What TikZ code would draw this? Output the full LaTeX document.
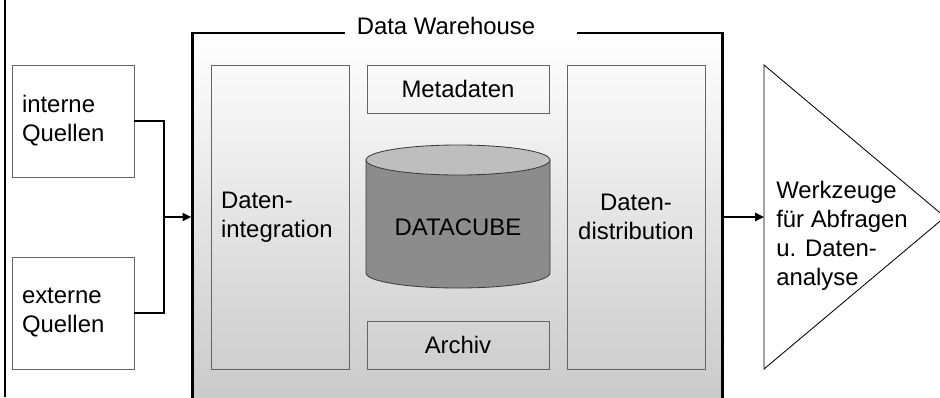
\documentclass[tikz,border=0pt]{standalone}
\usepackage{fontspec}
\setmainfont{Liberation Sans}
\usepackage{xcolor}
\usetikzlibrary{arrows.meta}
\definecolor{boxgray}{RGB}{100,100,100}
\definecolor{cubebody}{RGB}{140,140,140}
\definecolor{cubetop}{RGB}{190,190,190}
\definecolor{cubeline}{RGB}{60,60,60}

\tikzset{
    lbl/.style={font=\fontsize{17}{20.6}\selectfont},
    srcbox/.style={lbl, draw=boxgray, line width=0.7pt, fill=white, minimum width=3.05cm, minimum height=2.8cm, text width=2.55cm, inner xsep=0.25cm, align=left},
    dwhbox/.style={lbl, draw=boxgray, line width=0.7pt, minimum width=4.55cm, minimum height=1.2cm},
    sidebox/.style={dwhbox, minimum width=3.45cm, minimum height=7.6cm, text width=2.95cm, inner xsep=0.25cm},
    flow/.style={line width=2.1pt, -{Triangle[length=0.22cm,width=0.2cm]}}
}

\begin{document}
\begin{tikzpicture}
    \useasboundingbox (0,0) rectangle (23.5,-9.925);
    \draw[line width=1.4pt] (0.125,0) -- (0.125,-9.925);

    % Warehouse frame
    \node[top color=white, bottom color=black!22, minimum width=13.225cm, minimum height=9.675cm, inner sep=0] (dwh) at (11.4375,-5.6625) {};
    \draw[line width=2pt] (8.625,-0.825) -| (dwh.south west);
    \draw[line width=2pt] (14.425,-0.825) -| (dwh.south east);
    \node[lbl] (dwhtitle) at (11.15,-0.65) {Data Warehouse};

    % Sources
    \node[srcbox] (intern) at (1.825,-3.025) {interne\\Quellen};
    \node[srcbox] (extern) at (1.825,-7.825) {externe\\Quellen};

    % Inside the warehouse
    \node[sidebox, align=left] (integ) at (7.0,-5.425) {Daten-\\integration};
    \node[sidebox, align=center] (distr) at (15.9,-5.425) {Daten-\\distribution};
    \node[dwhbox] (meta) at (11.45,-2.225) {Metadaten};
    \node[dwhbox] (archiv) at (11.45,-8.625) {Archiv};

    % Datacube
    \filldraw[fill=cubebody, draw=cubeline, line width=0.6pt] (9.15,-4.0) -- (9.15,-6.825)
        arc[start angle=180, end angle=360, x radius=2.3, y radius=0.375] -- (13.75,-4.0) -- cycle;
    \filldraw[fill=cubetop, draw=cubeline, line width=0.6pt] (11.45,-4.0) ellipse[x radius=2.3, y radius=0.375];
    \node[lbl] (cube) at (11.45,-5.675) {DATACUBE};

    % Tools
    \draw[line width=0.6pt] (19.1,-1.625) coordinate (tooltop) -- (23.625,-5.425) -- (19.1,-9.225) coordinate (toolbot) -- cycle;
    \coordinate (toolin) at (19.1,-5.425);
    \node[lbl, align=left, anchor=west, inner sep=0] (tools) at (19.4,-5.9) {Werkzeuge\\für Abfragen\\u. Daten-\\analyse};

    % Flows
    \coordinate (join) at (4.1,-5.425);
    \draw[line width=2.1pt] (intern.east) -| (join) |- (extern.east);
    \draw[flow, shorten >=0.035cm] (join) -- (join -| dwh.west);
    \draw[flow, shorten <=0.035cm] (distr.east -| dwh.east) -- (toolin);
\end{tikzpicture}
\end{document}
